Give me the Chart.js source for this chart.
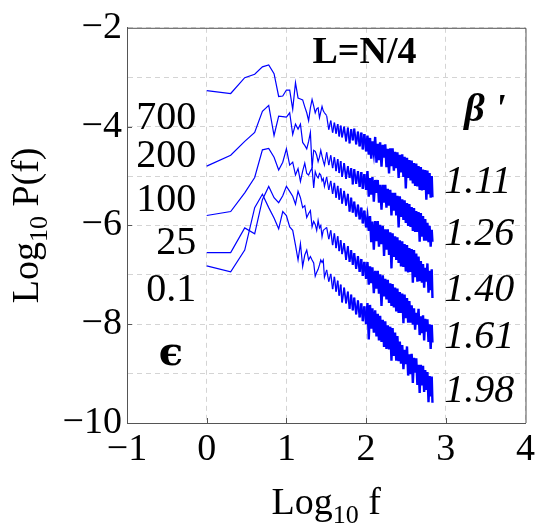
<!DOCTYPE html>
<html>
<head>
<meta charset="utf-8">
<script src="https://cdn.jsdelivr.net/npm/chart.js@4.4.0/dist/chart.umd.min.js"></script>
<style>
  html, body { margin: 0; padding: 0; background: #fff; }
  canvas { display: block; }
</style>
</head>
<body>
<canvas id="spectrum" width="539" height="527"></canvas>
<script>
// frequencies sampled along the spectrum (x = log10 f)
const freqs = [1, 2, 3, 4, 5, 6, 7, 8, 9, 10, 11, 12, 13, 14, 15, 16, 17, 18, 19, 20,
  21, 22, 23, 24, 25, 26, 27, 28, 29, 30,
  32, 34, 36, 38, 40, 42, 44, 46, 48, 50, 53, 56, 59, 62, 65, 68, 71, 75, 79, 83, 87, 91, 95, 100,
  104, 108, 112, 116, 120, 125, 130, 135, 140, 145, 150, 156, 162, 168, 174, 180, 187, 194, 201, 208,
  215, 223, 231, 239, 247, 256, 265, 274, 284, 294, 304, 315, 326, 337, 349, 361, 373, 386, 399, 412,
  426, 440, 455, 470, 486, 502, 518, 535, 552, 570, 588, 607, 626, 646, 666, 680];

// log10 P(f) for each epsilon
const eps700 = [-3.27, -3.33, -3.01, -2.94, -2.79, -2.75, -2.93, -3.39, -3.38, -3.26, -3.26, -3.65, -3.11, -3.42, -3.44,
  -3.46, -3.60, -3.72, -3.88, -3.62, -3.45, -3.58, -3.72, -3.64, -3.62, -3.82, -3.70, -3.59, -3.68, -3.72,
  -3.78, -4.06, -3.88, -4.12, -3.92, -4.14, -3.95, -4.20, -3.98, -4.22, -4.00, -4.30, -4.02, -4.34, -4.05,
  -4.28, -4.04, -4.36, -4.10, -4.40, -4.12, -4.46, -4.15, -4.50,
  -4.18, -4.57, -4.23, -4.65, -4.30, -4.54, -4.21, -4.73, -4.35, -4.68, -4.32, -4.81, -4.37, -4.63, -4.36,
  -4.82, -4.45, -4.95, -4.44, -4.80, -4.44, -4.89, -4.51, -4.84, -4.52, -5.04, -4.57, -4.93, -4.56, -5.02,
  -4.61, -5.25, -4.63, -5.04, -4.68, -5.09, -4.69, -5.15, -4.74, -5.20, -4.75, -5.21, -4.80, -5.28, -4.82,
  -5.29, -4.87, -5.28, -4.88, -5.48, -4.89, -5.37, -4.94, -5.44, -5.00, -5.43];

const eps200 = [-4.80, -4.58, -4.30, -4.12, -3.69, -3.57, -4.18, -3.79, -3.80, -3.81, -3.72, -4.16, -3.95, -4.05, -3.95,
  -4.32, -4.38, -4.45, -4.30, -4.12, -4.84, -4.48, -4.50, -4.58, -4.71, -4.62, -4.48, -4.60, -4.70, -4.78,
  -4.52, -4.78, -4.58, -4.84, -4.62, -4.90, -4.66, -4.94, -4.70, -5.02, -4.74, -5.06, -4.80, -5.04, -4.84,
  -5.17, -4.86, -5.16, -4.90, -5.22, -4.92, -5.26, -4.96, -5.28,
  -4.90, -5.42, -5.04, -5.38, -5.02, -5.52, -5.08, -5.34, -5.08, -5.54, -5.18, -5.68, -5.18, -5.54, -5.18,
  -5.64, -5.26, -5.60, -5.28, -5.80, -5.34, -5.70, -5.34, -5.80, -5.40, -6.04, -5.41, -5.83, -5.47, -5.89,
  -5.49, -5.95, -5.55, -6.01, -5.57, -6.03, -5.63, -6.11, -5.65, -6.13, -5.71, -6.13, -5.73, -6.33, -5.75,
  -6.23, -5.81, -6.31, -5.87, -6.31, -5.95, -6.34, -6.01, -6.43, -6.09, -6.33];

const eps100 = [-5.80, -5.72, -5.34, -5.03, -4.47, -4.44, -4.62, -4.88, -4.72, -4.45, -4.78, -4.72, -4.98, -4.85, -5.11,
  -4.90, -4.74, -4.95, -4.98, -4.90, -4.84, -5.24, -4.91, -5.00, -5.04, -4.95, -4.98, -5.10, -5.05, -5.21,
  -5.02, -5.28, -5.10, -5.36, -5.14, -5.44, -5.20, -5.48, -5.25, -5.56, -5.30, -5.60, -5.36, -5.72, -5.44,
  -5.74, -5.52, -5.82, -5.58, -5.88, -5.64, -5.96, -5.70, -6.04,
  -5.82, -6.11, -5.81, -6.34, -5.92, -6.49, -5.91, -6.32, -5.91, -6.43, -5.99, -6.38, -6.01, -6.62, -6.08,
  -6.49, -6.08, -6.60, -6.14, -6.87, -6.16, -6.64, -6.22, -6.70, -6.24, -6.76, -6.30, -6.83, -6.32, -6.84,
  -6.38, -6.93, -6.40, -6.95, -6.46, -6.94, -6.48, -7.16, -6.50, -7.05, -6.57, -7.14, -6.63, -7.13, -6.72,
  -7.16, -6.78, -7.26, -6.86, -7.14, -6.77, -7.36, -6.92, -7.31, -6.89, -7.47];

const eps25 = [-6.55, -6.55, -6.05, -6.17, -5.48, -5.21, -5.44, -5.54, -5.40, -5.21, -5.31, -5.41, -5.57, -5.31, -5.44,
  -5.64, -5.60, -5.84, -5.76, -5.70, -6.03, -5.92, -5.98, -6.10, -5.90, -6.05, -6.00, -6.23, -6.10, -6.08,
  -6.04, -6.28, -6.10, -6.40, -6.16, -6.46, -6.22, -6.52, -6.30, -6.58, -6.36, -6.70, -6.42, -6.74, -6.50,
  -6.80, -6.56, -6.88, -6.62, -6.94, -6.68, -7.02, -6.74, -7.08,
  -6.74, -7.20, -6.83, -7.17, -6.85, -7.37, -6.92, -7.28, -6.92, -7.38, -6.99, -7.63, -7.01, -7.44, -7.08,
  -7.50, -7.10, -7.57, -7.17, -7.63, -7.19, -7.66, -7.26, -7.74, -7.28, -7.77, -7.35, -7.77, -7.38, -7.98,
  -7.40, -7.88, -7.47, -7.97, -7.53, -7.97, -7.62, -8.01, -7.68, -8.11, -7.77, -8.01, -7.69, -8.22, -7.84,
  -8.18, -7.82, -8.33, -7.89, -8.15, -7.90, -8.36, -8.00, -8.50, -8.01, -8.37];

const eps01 = [-6.82, -6.94, -6.50, -5.64, -5.37, -5.64, -5.85, -6.07, -5.72, -5.80, -6.03, -6.10, -6.40, -6.70, -6.37,
  -6.83, -6.60, -6.50, -6.70, -6.63, -6.70, -6.76, -7.03, -6.95, -6.89, -6.80, -6.70, -6.75, -6.70, -7.05,
  -6.90, -7.14, -6.98, -7.29, -7.04, -7.34, -7.12, -7.42, -7.20, -7.56, -7.26, -7.58, -7.34, -7.69, -7.40,
  -7.72, -7.46, -7.80, -7.52, -7.86, -7.58, -7.94, -7.64, -8.00,
  -7.57, -8.31, -7.61, -8.09, -7.68, -8.17, -7.72, -8.25, -7.79, -8.33, -7.83, -8.36, -7.91, -8.46, -7.94,
  -8.50, -8.02, -8.51, -8.05, -8.74, -8.08, -8.64, -8.17, -8.74, -8.24, -8.75, -8.35, -8.80, -8.42, -8.91,
  -8.52, -8.81, -8.45, -9.04, -8.61, -9.01, -8.60, -9.19, -8.68, -8.98, -8.69, -9.23, -8.82, -9.39, -8.82,
  -9.24, -8.84, -9.37, -8.93, -9.33, -8.97, -9.58, -9.05, -9.46, -9.06, -9.59];

const allSeries = [eps700, eps200, eps100, eps25, eps01];
const epsLabels = ['700', '200', '100', '25', '0.1'];
const betaLabels = ['1.11', '1.26', '1.40', '1.61', '1.98'];
const xTicks = [-1, 0, 1, 2, 3, 4];
const yTicks = [-10, -8, -6, -4, -2];

// where the side labels sit, in axis units
const epsLabelX = -0.13;
const epsLabelY = [-3.83, -4.60, -5.49, -6.37, -7.32];
const epsSymbolY = -8.61;
const betaLabelX = 2.98;
const betaLabelY = [-5.13, -6.19, -7.32, -8.27, -9.36];
const betaHeadY = -3.67;
const betaHeadX = 3.23;

const serif = "'Liberation Serif', 'Times New Roman', 'DejaVu Serif', serif";

function withMinus(v) {
  return String(v).replace('-', '\u2212');
}

function toPoints(values) {
  return freqs.map((f, i) => ({ x: Math.log10(f), y: values[i] }));
}

// the high-frequency tail is so dense it reads as a solid band,
// so the stroke thickens gradually past log f = 1.5
function segmentWidth(c) {
  const x = c.p0.parsed.x;
  if (x < 1.5) return 1.2;
  return Math.min(2.4, 1.2 + (x - 1.5) * 2.4);
}

// "Log" + subscript 10 + tail, centred on cx
function drawLogTitle(ctx, cx, baseline, tail) {
  const big = `38px ${serif}`;
  const small = `26px ${serif}`;
  ctx.font = big;
  const w1 = ctx.measureText('Log').width;
  const w3 = ctx.measureText(tail).width;
  ctx.font = small;
  const w2 = ctx.measureText('10').width;
  const x0 = cx - (w1 + w2 + w3) / 2;
  ctx.textAlign = 'left';
  ctx.textBaseline = 'alphabetic';
  ctx.font = big;
  ctx.fillText('Log', x0, baseline);
  ctx.font = small;
  ctx.fillText('10', x0 + w1, baseline + 9);
  ctx.font = big;
  ctx.fillText(tail, x0 + w1 + w2, baseline);
}

const decorations = {
  id: 'decorations',
  afterDraw(chart) {
    const { ctx, chartArea: area } = chart;
    const x = chart.scales.x;
    const y = chart.scales.y;
    ctx.save();

    // frame and inner tick marks
    ctx.strokeStyle = '#555';
    ctx.lineWidth = 1;
    ctx.beginPath();
    ctx.moveTo(area.left, area.top + 0.5);
    ctx.lineTo(area.right + 0.5, area.top + 0.5);
    ctx.lineTo(area.right + 0.5, area.bottom);
    ctx.stroke();
    ctx.beginPath();
    yTicks.slice(1, -1).forEach((v) => {
      const py = Math.round(y.getPixelForValue(v)) + 0.5;
      ctx.moveTo(area.left, py);
      ctx.lineTo(area.left + 5, py);
    });
    xTicks.slice(1, -1).forEach((v) => {
      const px = Math.round(x.getPixelForValue(v)) + 0.5;
      ctx.moveTo(px, area.bottom);
      ctx.lineTo(px, area.bottom - 5);
    });
    ctx.stroke();

    ctx.fillStyle = '#000';
    ctx.textBaseline = 'middle';

    ctx.font = `bold 38px ${serif}`;
    ctx.textAlign = 'center';
    ctx.fillText('L=N/4', x.getPixelForValue(1.98), y.getPixelForValue(-2.52));

    ctx.font = `40px ${serif}`;
    ctx.textAlign = 'right';
    epsLabels.forEach((t, i) => {
      ctx.fillText(t, x.getPixelForValue(epsLabelX), y.getPixelForValue(epsLabelY[i]));
    });
    ctx.font = `bold 40px 'DejaVu Serif', ${serif}`;
    ctx.textAlign = 'center';
    ctx.fillText('\u03F5', x.getPixelForValue(-0.45), y.getPixelForValue(epsSymbolY));

    ctx.font = `bold italic 40px ${serif}`;
    ctx.textAlign = 'left';
    ctx.fillText("\u03B2 '", x.getPixelForValue(betaHeadX), y.getPixelForValue(betaHeadY));

    ctx.font = `italic 40px ${serif}`;
    betaLabels.forEach((t, i) => {
      ctx.fillText(t, x.getPixelForValue(betaLabelX), y.getPixelForValue(betaLabelY[i]));
    });

    // axis titles
    drawLogTitle(ctx, (area.left + area.right) / 2, 514, ' f');
    ctx.translate(38, (area.top + area.bottom) / 2);
    ctx.rotate(-Math.PI / 2);
    drawLogTitle(ctx, 0, 0, ' P(f)');

    ctx.restore();
  }
};

const ctx = document.querySelector('#spectrum');
const chart = new Chart(ctx, {
  type: 'line',
  data: {
    datasets: allSeries.map((values, i) => ({
      label: epsLabels[i],
      data: toPoints(values),
      borderColor: '#0000ff',
      borderWidth: 1.2,
      pointRadius: 0,
      fill: false,
      tension: 0,
      segment: { borderWidth: segmentWidth }
    }))
  },
  options: {
    responsive: false,
    animation: false,
    layout: { padding: { top: 20, right: 10, left: 0, bottom: 0 } },
    plugins: { legend: { display: false }, tooltip: { enabled: false } },
    scales: {
      x: {
        type: 'linear',
        min: -1,
        max: 4,
        afterBuildTicks: (scale) => { scale.ticks = xTicks.map((v) => ({ value: v })); },
        afterFit: (scale) => { scale.height = 104; },
        ticks: {
          autoSkip: false,
          maxRotation: 0,
          padding: 4,
          color: '#000',
          font: { family: serif, size: 38 },
          callback: (v) => withMinus(v)
        },
        grid: { color: '#d4d4d4', drawTicks: false },
        border: { color: '#555', dash: [5, 4] }
      },
      y: {
        type: 'linear',
        min: -10,
        max: -2,
        afterFit: (scale) => { scale.width = 127; },
        ticks: {
          stepSize: 1,
          autoSkip: false,
          padding: 5,
          color: '#000',
          font: { family: serif, size: 38 },
          callback: (v) => (v % 2 === 0 ? withMinus(v) : '')
        },
        grid: { color: '#d4d4d4', drawTicks: false },
        border: { color: '#555', dash: [5, 4] }
      }
    }
  },
  plugins: [decorations]
});
</script>
</body>
</html>
